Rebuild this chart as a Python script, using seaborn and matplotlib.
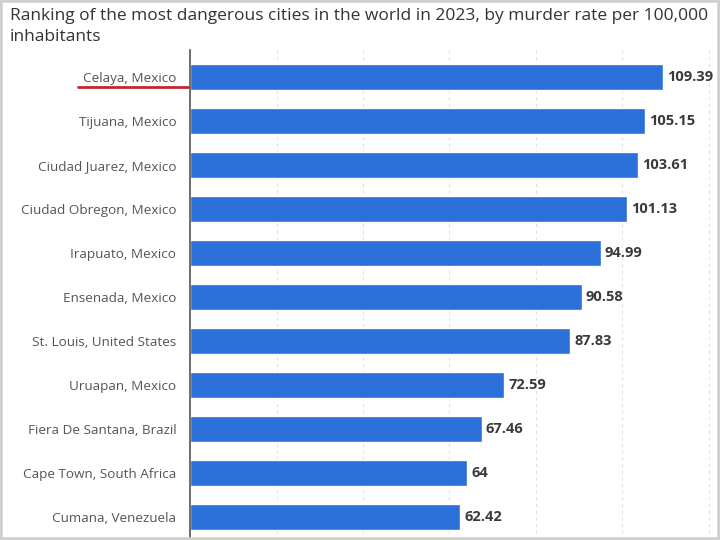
import pandas as pd
import numpy as np
import matplotlib.pyplot as plt
import seaborn as sns
from matplotlib.lines import Line2D
from matplotlib.patches import Rectangle

cities = ["Celaya, Mexico", "Tijuana, Mexico", "Ciudad Juarez, Mexico",
          "Ciudad Obregon, Mexico", "Irapuato, Mexico", "Ensenada, Mexico",
          "St. Louis, United States", "Uruapan, Mexico", "Fiera De Santana, Brazil",
          "Cape Town, South Africa", "Cumana, Venezuela"]
rates = [109.39, 105.15, 103.61, 101.13, 94.99, 90.58, 87.83, 72.59, 67.46, 64, 62.42]
labels = ["109.39", "105.15", "103.61", "101.13", "94.99", "90.58", "87.83",
          "72.59", "67.46", "64", "62.42"]

df = pd.DataFrame({"City": cities, "Rate": rates})

sns.set_style("white")
plt.rcParams['font.family'] = ['Open Sans', 'DejaVu Sans']

fig = plt.figure(figsize=(7.2, 5.4), dpi=100)
ax = fig.add_axes([0.264, 0.0, 0.736, 0.907])

sns.barplot(data=df, x="Rate", y="City", color="#2b6fd8", width=0.59,
            saturation=1, ax=ax)

for i, (v, t) in enumerate(zip(rates, labels)):
    ax.text(v + 1.0, i, t, va="center", ha="left", fontsize=10.5,
            fontweight="bold", color="#3a3a3a")

ax.set_xlim(0, 122.6)
ax.set_ylim(10.52, -0.61)
ax.set_xticks([20, 40, 60, 80, 100, 120])
ax.xaxis.grid(True, linestyle=(0, (3, 3)), color="#e2e2e2", linewidth=0.8)
ax.set_axisbelow(True)
ax.tick_params(axis="x", length=0, labelbottom=False)
ax.tick_params(axis="y", length=0, pad=10, labelsize=9.7, labelcolor="#555555")
ax.set_xlabel("")
ax.set_ylabel("")
for s in ["top", "right", "bottom"]:
    ax.spines[s].set_visible(False)
ax.spines["left"].set_color("#555555")
ax.spines["left"].set_linewidth(1.2)

fig.text(0.014, 0.985, "Ranking of the most dangerous cities in the world in 2023, by murder rate per 100,000\ninhabitants",
         ha="left", va="top", fontsize=12.5, color="#333333", linespacing=1.4)

# red underline under the first city
fig.add_artist(Line2D([78 / 720, 188 / 720], [1 - 87 / 540, 1 - 87 / 540],
                      color="#c0282d", linewidth=2))

fig.add_artist(Rectangle((0, 0), 1, 1, transform=fig.transFigure, fill=False,
                         edgecolor="#cfcfcf", linewidth=4))

fig.savefig("out.png", dpi=100)
